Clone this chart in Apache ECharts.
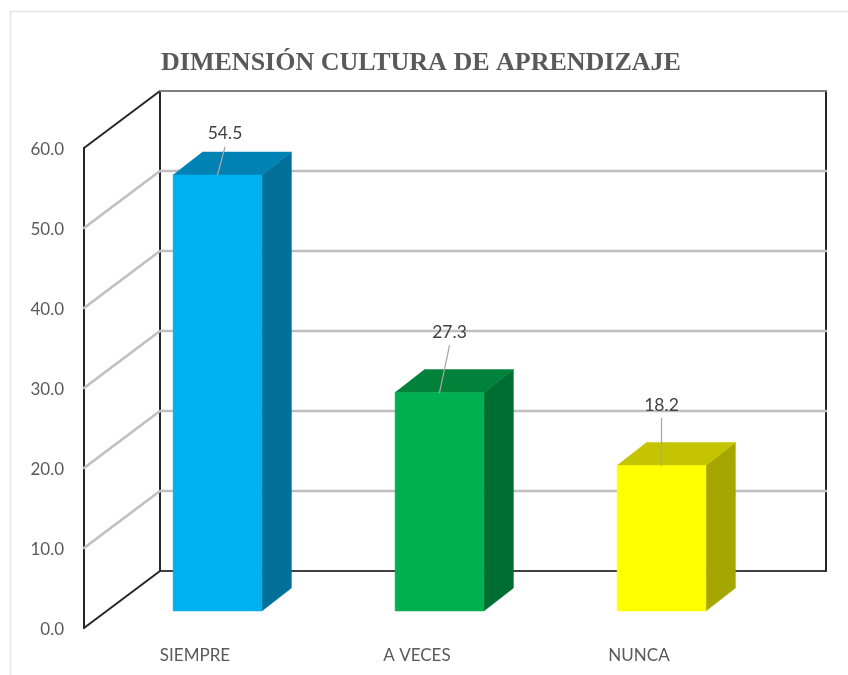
<!DOCTYPE html>
<html>
<head>
<meta charset="utf-8">
<style>html,body{margin:0;padding:0;background:#fff}#chart{width:848px;height:675px}</style>
<script src="https://cdn.jsdelivr.net/npm/echarts@6/dist/echarts.min.js"></script>
</head>
<body>
<div id="chart"></div>
<script>
const titleText = 'DIMENSIÓN CULTURA DE APRENDIZAJE';
const categories = ['SIEMPRE', 'A VECES', 'NUNCA'];
const values = [54.5, 27.3, 18.2];
const yTicks = [0, 10, 20, 30, 40, 50, 60];
const frontColors = ['#00B0F0', '#00B050', '#FFFF00'];
const topColors = ['#0083B4', '#00823B', '#C4C400'];
const sideColors = ['#00709B', '#006E32', '#A6A600'];
// label position relative to the bar's top-front centre (pixels)
const labelOffsets = [[7.5, -42], [10, -60], [0, -60]];
const leaderEnds = [[7.5, -28], [10, -47], [0, -47]];

const WALL = [76, -57];   // back wall shift from the front plane
const BAR_PLANE = [22.5, -17];
const BAR_DEPTH = [29.5, -23];
const BAR_W = 0.4;
const GRID_C = '#BFBFBF', DARK = '#262626';

function line(p, q, stroke, lineWidth) {
  return { type: 'line', shape: { x1: p[0], y1: p[1], x2: q[0], y2: q[1] },
           style: { stroke, lineWidth, lineCap: 'round' } };
}

function renderWallTick(params, api) {
  const v = api.value(0);
  const tl = api.coord([0, v]);
  const band = api.size([1, 0])[0];
  const a = [tl[0] - band / 2, tl[1]];
  const b = [a[0] + WALL[0], a[1] + WALL[1]];
  const c = [b[0] + band * categories.length, b[1]];
  const isTop = v === yTicks[yTicks.length - 1], isBase = v === yTicks[0];
  const children = [];
  if (isTop || isBase) {
    children.push(line(a, b, DARK, 2));
    children.push(line(b, c, isTop ? '#7F7F7F' : '#404040', 2));
  } else {
    children.push(line(a, b, GRID_C, 2.5));
    children.push(line(b, c, GRID_C, 2.5));
  }
  if (isBase) {
    const topY = api.coord([0, yTicks[yTicks.length - 1]])[1];
    children.push(line(a, [a[0], topY], DARK, 2));
    children.push(line(b, [b[0], topY + WALL[1]], DARK, 2));
    children.push(line(c, [c[0], topY + WALL[1]], DARK, 2));
  }
  return { type: 'group', children };
}

function renderBar(params, api) {
  const i = api.value(0), v = api.value(1);
  const base = api.coord([i, 0]), top = api.coord([i, v]);
  const band = api.size([1, 0])[0];
  const w = band * BAR_W;
  const l = base[0] + BAR_PLANE[0] - w / 2, r = l + w;
  const yb = base[1] + BAR_PLANE[1], yt = top[1] + BAR_PLANE[1];
  const dx = BAR_DEPTH[0], dy = BAR_DEPTH[1];
  const poly = (pts, fill) => ({ type: 'polygon', shape: { points: pts },
    style: { fill, stroke: fill, lineWidth: 0.5 } });
  const cx = (l + r) / 2;
  const lo = labelOffsets[i], le = leaderEnds[i];
  return { type: 'group', children: [
    poly([[r, yt], [r + dx, yt + dy], [r + dx, yb + dy], [r, yb]], sideColors[i]),
    poly([[l, yt], [l + dx, yt + dy], [r + dx, yt + dy], [r, yt]], topColors[i]),
    poly([[l, yt], [r, yt], [r, yb], [l, yb]], frontColors[i]),
    line([cx, yt], [cx + le[0], yt + le[1]], '#A6A6A6', 1.25),
    { type: 'text', style: { x: cx + lo[0], y: yt + lo[1], text: v.toFixed(1),
        fill: '#404040', font: '17.5px Lato', align: 'center', verticalAlign: 'middle' } }
  ] };
}

const chart = echarts.init(document.getElementById('chart'), null, { renderer: 'canvas' });
chart.setOption({
  animation: false,
  backgroundColor: '#fff',
  title: { text: titleText, left: 416, top: 45, textAlign: 'center',
    textStyle: { fontFamily: 'Liberation Serif', fontWeight: 'bold', fontSize: 26, color: '#595959' } },
  graphic: [{ type: 'rect', silent: true, shape: { x: 10.5, y: 11.5, width: 900, height: 700 },
    style: { fill: 'none', stroke: '#E4E4E4', lineWidth: 1.5 } }],
  grid: { left: 84, top: 148, width: 666, height: 480, containLabel: false },
  xAxis: { type: 'category', data: categories,
    axisLine: { show: false }, axisTick: { show: false }, splitLine: { show: false },
    axisLabel: { color: '#595959', fontFamily: 'Lato', fontSize: 17, margin: 19 } },
  yAxis: { type: 'value', min: 0, max: 60, interval: 10,
    axisLine: { show: false }, axisTick: { show: false }, splitLine: { show: false },
    axisLabel: { margin: 20, formatter: v => '{t|' + v.toFixed(1) + '}',
      rich: { t: { color: '#595959', fontFamily: 'Lato', fontSize: 17, padding: [4, 0, 0, 0] } } } },
  series: [
    { type: 'custom', name: 'walls', coordinateSystem: 'cartesian2d', silent: true, clip: false,
      encode: { y: 0 }, data: yTicks.map(v => [v]), renderItem: renderWallTick, z: 1 },
    { type: 'custom', name: 'values', coordinateSystem: 'cartesian2d', silent: true, clip: false,
      encode: { x: 0, y: 1 }, data: values.map((v, i) => [i, v]), renderItem: renderBar, z: 2 }
  ]
});
</script>
</body>
</html>
